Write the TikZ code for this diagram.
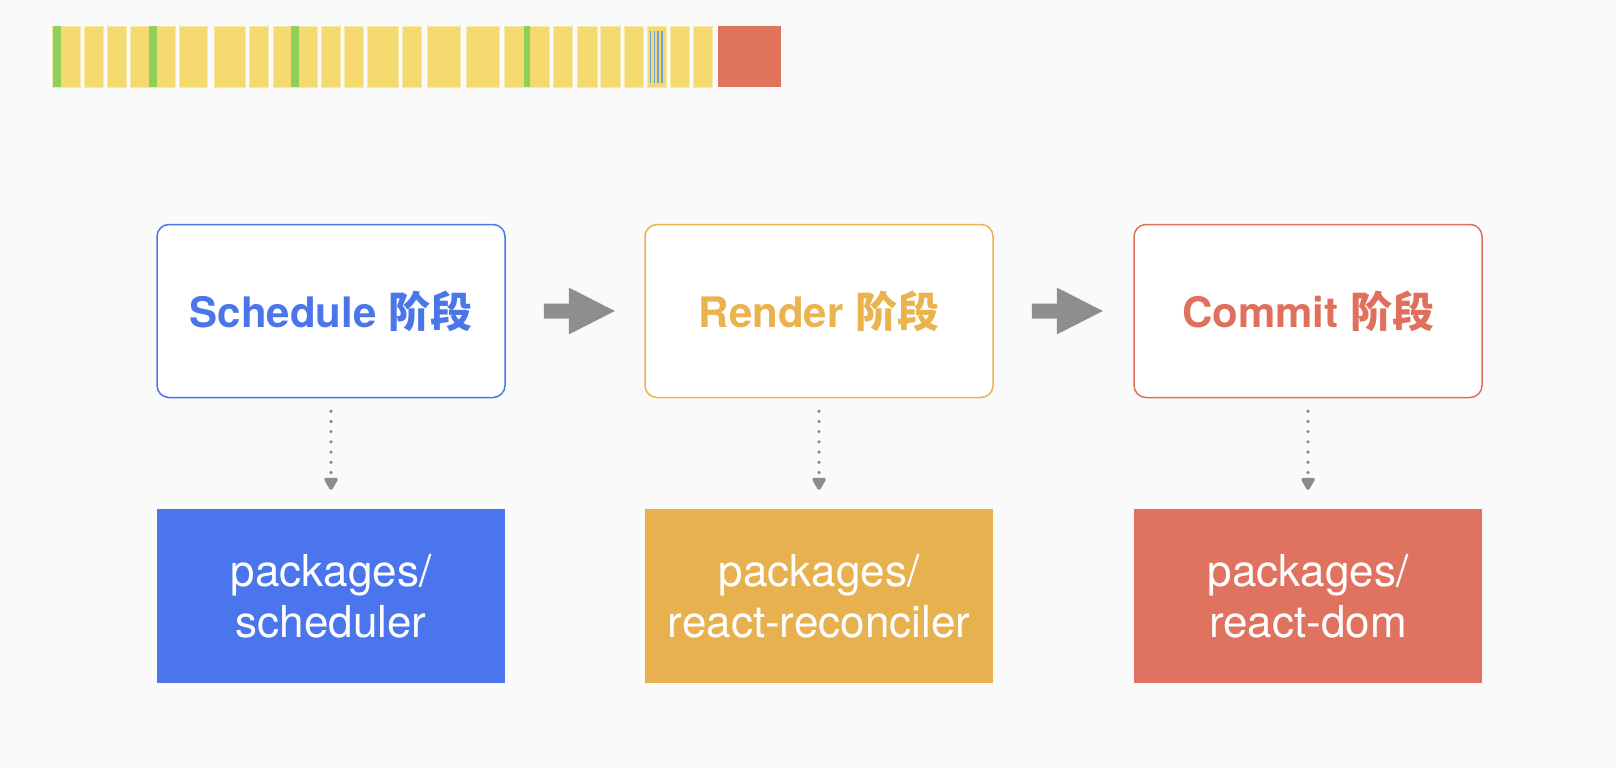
\documentclass[tikz,border=0pt]{standalone}
\usepackage{fontspec}
\setmainfont{TeX Gyre Heros}
\newfontfamily\cjk{Noto Sans CJK SC}
\usetikzlibrary{arrows.meta}
\definecolor{bg}{HTML}{FAFAFA}
\definecolor{cblue}{HTML}{4A76EA}
\definecolor{corange}{HTML}{EBB34E}
\definecolor{cred}{HTML}{E0705B}
\definecolor{fblue}{HTML}{4A75EC}
\definecolor{forange}{HTML}{E8B150}
\definecolor{fred}{HTML}{E07360}
\definecolor{barY}{HTML}{F4DA6E}
\definecolor{barG}{HTML}{8DD05A}
\definecolor{barR}{HTML}{E0735C}
\definecolor{barB}{HTML}{6FA3D2}
\definecolor{agray}{HTML}{8E8E8E}
\definecolor{dgray}{HTML}{8C8C8C}
\tikzset{
  stagebox/.style={rounded corners=12pt, minimum width=348pt, minimum height=173pt,
    line width=1.5pt, fill=white, font=\fontsize{42}{50}\selectfont\bfseries},
  pkgbox/.style={minimum width=348pt, minimum height=174pt, text=white, align=center,
    font=\fontsize{44}{51}\selectfont},
  dotarrow/.style={draw=dgray, line width=3.6pt, line cap=round, dash pattern=on 0pt off 10.2pt,
    shorten <=13pt, shorten >=19pt, -{Triangle[width=15pt,length=14pt,round=false]}},
  blockarrow/.style={fill=agray},
  bar/.style={fill=barY, draw=barY!60!white, line width=0.8pt}
}
\begin{document}
\begin{tikzpicture}[x=1pt,y=-1pt]
\fill[bg] (0,0) rectangle (1616,768);
\useasboundingbox (0,0) rectangle (1616,768);

% timeline bars
\foreach \l/\r in {52.3/80,84.2/103,107.7/126.6,130/175,179.4/207.6,214.4/245.3,249/268,273/317,
  321.7/340.5,344.7/363.5,367.7/398.5,402.7/421.5,427.3/460.3,466/499.5,504.7/549.7,553.3/572,
  577/597,600.4/620.3,624/643,647.5/666.3,670.5/689.3,693.5/712.3}
  \path[bar] (\l,26) rectangle (\r,87);
\foreach \l/\r in {52.8/61.2,148.5/157,291/299,523.5/530.3}
  \fill[barG] (\l,26.5) rectangle (\r,86.5);
\foreach \x in {650.5,654.3,658.1,661.9}
  \fill[barB] (\x-0.8,31) rectangle (\x+0.8,83);
\fill[barR] (718,26) rectangle (781,87);

% stage boxes
\node[stagebox, draw=cblue, text=cblue] (s) at (331,311) {Schedule {\cjk 阶段}};
\node[stagebox, draw=corange, text=corange] (r) at (819,311) {Render {\cjk 阶段}};
\node[stagebox, draw=cred, text=cred] (c) at (1308,311) {Commit {\cjk 阶段}};

% package boxes
\node[pkgbox, fill=fblue] (sb) at (331,596) {packages/\\scheduler};
\node[pkgbox, fill=forange] (rb) at (819,596) {packages/\\react-reconciler};
\node[pkgbox, fill=fred] (cb) at (1308,596) {packages/\\react-dom};

% block arrows between stages
\foreach \a in {s,r}
  \fill[blockarrow] ([shift={(38,-7.5)}]\a.east) -- ++(25,0) -- ++(0,-16) -- ++(46,23.5)
    -- ++(-46,23.5) -- ++(0,-16) -- ++(-25,0) -- cycle;

% dotted arrows
\draw[dotarrow] (s.south) -- (sb.north);
\draw[dotarrow] (r.south) -- (rb.north);
\draw[dotarrow] (c.south) -- (cb.north);
\end{tikzpicture}
\end{document}
